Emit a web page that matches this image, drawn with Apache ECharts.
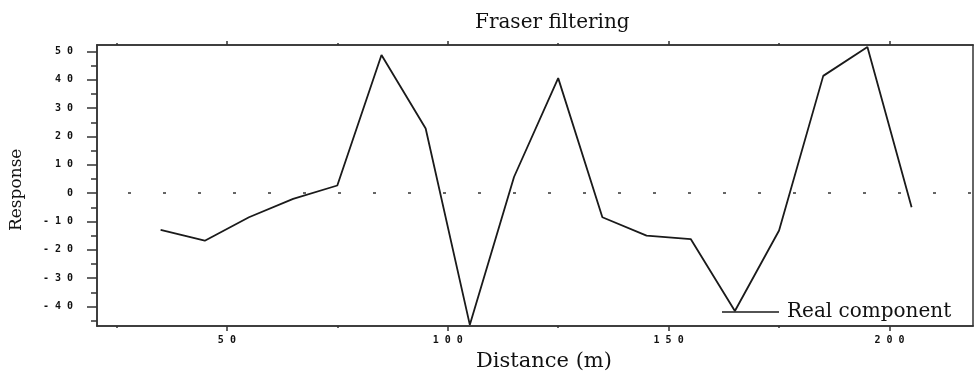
<!DOCTYPE html>
<html>
<head>
<meta charset="utf-8">
<script src="https://cdn.jsdelivr.net/npm/echarts@6/dist/echarts.min.js"></script>
<style>
  html, body { margin: 0; padding: 0; background: #fff; }
  #chart { width: 975px; height: 374px; }
</style>
</head>
<body>
<div id="chart"></div>
<script>
// Profile along the line: distance (m) and Fraser-filtered response
const distance = [35, 45, 55, 65, 75, 85, 95, 105, 115, 125, 135, 145, 155, 165, 175, 185, 195, 205];
const response = [-13.0, -16.8, -8.5, -2.0, 2.7, 48.8, 22.8, -46.5, 5.7, 40.6, -8.5, -15.0, -16.2, -41.6, -13.2, 41.4, 51.6, -5.0];

// Axis extents and tick positions
const xRange = [20.6, 218.9];
const yRange = [-46.9, 52.3];
const xMajorTicks = [50, 100, 150, 200];
const xMinorTicks = [25, 75, 125, 175];
const yMajorTicks = [-40, -30, -20, -10, 0, 10, 20, 30, 40, 50];
const yMinorTicks = [-45, -35, -25, -15, -5, 5, 15, 25, 35, 45];

const seriesName = 'Real component';
const titleText = 'Fraser filtering';
const xTitle = 'Distance (m)';
const yTitle = 'Response';

const serif = "'DejaVu Serif', 'Liberation Serif', serif";
const tickFont = "'DejaVu Sans Mono', monospace";
const ink = '#111';
const frame = '#333';

// Tick labels are set with a gap between the digits
const spaced = v => String(v).split('').join(' ');

function xAxisDef(position, ticks, len, showLabels) {
  return {
    type: 'value', position: position, min: xRange[0], max: xRange[1],
    splitLine: { show: false },
    axisLine: { show: true, onZero: false, lineStyle: { color: frame, width: 1.5 } },
    axisTick: { show: true, inside: false, length: len, customValues: ticks,
                lineStyle: { color: frame, width: 1.5 } },
    axisLabel: showLabels
      ? { show: true, customValues: ticks, margin: 9, color: ink,
          fontFamily: tickFont, fontWeight: 'bold', fontSize: 10, formatter: spaced }
      : { show: false }
  };
}

function yAxisDef(position, ticks, len, showLabels, showTicks) {
  return {
    type: 'value', position: position, min: yRange[0], max: yRange[1],
    splitLine: { show: false },
    axisLine: { show: true, onZero: false, lineStyle: { color: frame, width: 1.5 } },
    axisTick: showTicks
      ? { show: true, inside: false, length: len, customValues: ticks,
          lineStyle: { color: frame, width: 1.5 } }
      : { show: false },
    axisLabel: showLabels
      ? { show: true, customValues: ticks, margin: 24, color: ink,
          fontFamily: tickFont, fontWeight: 'bold', fontSize: 10, formatter: spaced }
      : { show: false }
  };
}

const chart = echarts.init(document.getElementById('chart'), null, { renderer: 'canvas' });

chart.setOption({
  animation: false,
  backgroundColor: '#fff',
  grid: { left: 97, right: 2, top: 45, bottom: 48, containLabel: false },
  title: {
    text: titleText, left: 470, top: 8,
    textStyle: { fontFamily: serif, fontWeight: 'normal', fontSize: 20, color: ink }
  },
  legend: {
    data: [{ name: seriesName, icon: 'rect' }], left: 722, top: 302, padding: 0,
    itemWidth: 57, itemHeight: 1.5, itemGap: 0,
    textStyle: { fontFamily: serif, fontSize: 20, color: ink, padding: [0, 0, 0, 3] }
  },
  xAxis: [
    xAxisDef('bottom', xMajorTicks, 5, true),
    xAxisDef('bottom', xMinorTicks, 2, false),
    xAxisDef('top', xMajorTicks, 4, false),
    xAxisDef('top', xMinorTicks, 2, false)
  ],
  yAxis: [
    yAxisDef('left', yMajorTicks, 10, true, true),
    yAxisDef('left', yMinorTicks, 6, false, true),
    yAxisDef('right', [], 0, false, false)
  ],
  graphic: [
    {
      type: 'text', left: 476, top: 351,
      style: { text: xTitle, font: '21px ' + serif, fill: ink }
    },
    {
      type: 'text', x: 8, y: 231, rotation: Math.PI / 2,
      style: { text: yTitle, font: '17px ' + serif, fill: ink }
    }
  ],
  series: [{
    name: seriesName,
    type: 'line',
    xAxisIndex: 0, yAxisIndex: 0,
    data: distance.map((d, i) => [d, response[i]]),
    symbol: 'none', showSymbol: false,
    lineStyle: { color: '#1a1a1a', width: 1.8 },
    itemStyle: { color: '#1a1a1a' },
    markLine: {
      silent: true, symbol: 'none', label: { show: false },
      lineStyle: { color: '#333', width: 1.5, type: [3, 32], dashOffset: 4 },
      data: [{ yAxis: 0 }]
    }
  }]
});
</script>
</body>
</html>
